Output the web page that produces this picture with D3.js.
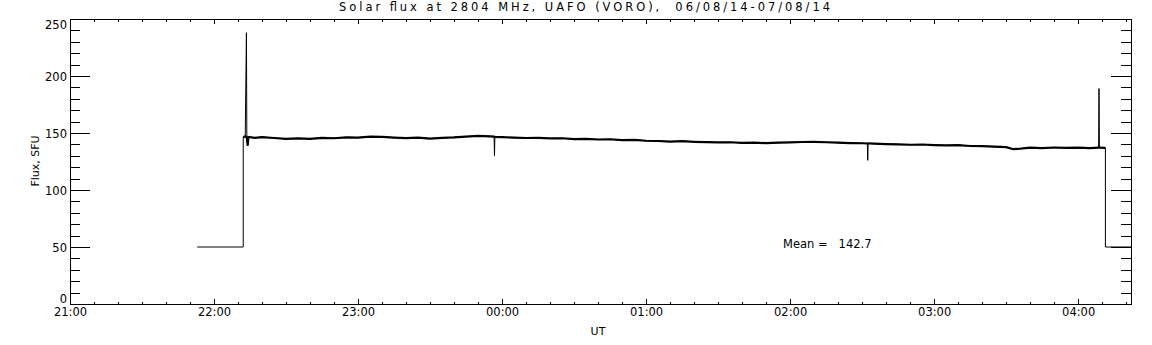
<!DOCTYPE html>
<html>
<head>
<meta charset="utf-8">
<script src="https://cdn.jsdelivr.net/npm/d3@7"></script>
<style>
  body { margin: 0; background: #fff; }
  svg { display: block; }
  text { font-family: "DejaVu Sans", sans-serif; font-size: 11px; fill: #000; }
</style>
</head>
<body>
<div id="hook"></div>
<script>
// Data (UT, day rolls over after midnight)
var fluxTimes = [
  "21:53:00","22:12:10","22:12:10","22:13:00","22:13:30","22:13:40","22:14:00","22:14:20",
  "22:17","22:20","22:25","22:30","22:35","22:40","22:45","22:50","22:55","23:00","23:05",
  "23:10","23:15","23:20","23:25","23:30","23:35","23:40","23:45","23:50","23:55",
  "23:56:40","23:56:50","23:57:00","00:00","00:05","00:10","00:15","00:20","00:25","00:30",
  "00:35","00:40","00:45","00:50","00:55","01:00","01:05","01:10","01:15","01:20","01:25",
  "01:30","01:35","01:40","01:45","01:50","01:55","02:00","02:05","02:10","02:15","02:20",
  "02:25","02:30","02:32:10","02:32:20","02:32:30","02:35","02:40","02:45","02:50","02:55",
  "03:00","03:05","03:10","03:15","03:20","03:25","03:30","03:33","03:36","03:40","03:45",
  "03:50","03:55","04:00","04:05","04:08:30","04:08:40","04:08:50","04:11:20","04:11:20","04:22"
];
var fluxValues = [
  50, 50, 146.5, 147, 238, 146, 139, 146.5,
  145.8, 146.4, 145.6, 144.8, 145.3, 144.9, 145.7, 145.4, 146.2, 146.0, 146.8,
  146.6, 146.0, 145.5, 145.9, 145.1, 145.8, 146.2, 146.9, 147.4, 147.0,
  146.8, 130, 146.6, 146.4, 145.9, 145.6, 145.8, 145.2, 145.4, 144.7,
  144.9, 144.3, 144.5, 143.7, 143.9, 143.2, 143.0, 142.5, 142.8, 142.3, 142.0,
  141.7, 141.9, 141.3, 141.6, 141.1, 141.5, 141.7, 142.1, 142.3, 141.9, 141.5,
  141.2, 141.0, 140.8, 126, 140.9, 140.6, 140.2, 140.0, 139.7, 139.9,
  139.4, 139.1, 139.3, 138.6, 138.4, 138.0, 137.6, 135.8, 136.3, 137.2, 136.8,
  137.3, 136.9, 137.1, 136.8, 137.2, 189, 137.2, 137.0, 50, 50
];
var yTicks = [0, 50, 100, 150, 200, 250];
var timeRange = ["21:00", "04:22"];
var meanValue = 142.7;
var titleText = "Solar flux at 2804 MHz, UAFO (VORO),  06/08/14-07/08/14";

function parseUT(s) {
  var p = s.split(":").map(Number);
  var day = p[0] < 12 ? 7 : 6;
  return new Date(Date.UTC(2014, 7, day, p[0], p[1], p[2] || 0));
}

var data = fluxTimes.map(function(t, i) { return { t: parseUT(t), v: fluxValues[i] }; });

var W = 1152, H = 345;
var m = { left: 70, right: 21, top: 19, bottom: 41 };

var svg = d3.select("#hook").append("svg")
    .attr("width", W)
    .attr("height", H);

var x = d3.scaleUtc()
    .domain(timeRange.map(parseUT))
    .range([m.left, W - m.right]);
var y = d3.scaleLinear()
    .domain([0, 250])
    .range([H - m.bottom, m.top]);

var fmt = d3.utcFormat("%H:%M");

// minor + major ticks, all pointing inside the frame
function xAxis(gen, ypos, size, labels) {
  var g = svg.append("g").attr("transform", "translate(0," + ypos + ")")
      .call(gen.tickSizeOuter(0).tickSize(size)
        .tickFormat(labels ? fmt : ""));
  g.select(".domain").remove();
  g.selectAll("line").attr("stroke", "#000").attr("shape-rendering", "crispEdges");
  return g;
}
xAxis(d3.axisBottom(x).ticks(d3.utcMinute.every(10)), H - m.bottom, -2.5, false);
var xb = xAxis(d3.axisBottom(x).ticks(d3.utcHour.every(1)), H - m.bottom, -5, true);
xb.selectAll("text").attr("y", 12).attr("dy", 0).style("font-size", "11.5px");
xAxis(d3.axisTop(x).ticks(d3.utcMinute.every(10)), m.top, -2.5, false);
xAxis(d3.axisTop(x).ticks(d3.utcHour.every(1)), m.top, -5, false);

function yAxis(gen, xpos, size, labels, vals) {
  var g = svg.append("g").attr("transform", "translate(" + xpos + ",0)")
      .call(gen.tickValues(vals).tickSizeOuter(0).tickSize(size)
        .tickFormat(labels ? d3.format("d") : ""));
  g.select(".domain").remove();
  g.selectAll("line").attr("stroke", "#000").attr("shape-rendering", "crispEdges");
  return g;
}
var minorY = d3.range(0, 251, 10);
yAxis(d3.axisLeft(y), m.left, -10, false, minorY);
var yl = yAxis(d3.axisLeft(y), m.left, -20, true, yTicks);
yl.selectAll("text").attr("x", -3).style("font-size", "11.5px")
  .attr("dy", function(d) { return d === 0 ? "-0.1em" : d === 250 ? "0.85em" : "0.35em"; });
yAxis(d3.axisRight(y), W - m.right, -10, false, minorY);
yAxis(d3.axisRight(y), W - m.right, -20, false, yTicks);

// frame
svg.append("rect")
    .attr("x", m.left + 0.5).attr("y", m.top + 0.5)
    .attr("width", W - m.left - m.right).attr("height", H - m.top - m.bottom)
    .attr("fill", "none").attr("stroke", "#000").attr("shape-rendering", "crispEdges");

// flux trace
var line = d3.line().x(function(d) { return x(d.t); }).y(function(d) { return y(d.v); });
svg.append("path")
    .datum(data)
    .attr("d", line)
    .attr("fill", "none").attr("stroke", "#000").attr("stroke-width", 1);
// noisy plateau drawn thicker (spikes and steps left out)
svg.append("path")
    .datum(data.filter(function(d) { return d.v > 133 && d.v < 150; }))
    .attr("d", line)
    .attr("fill", "none").attr("stroke", "#000").attr("stroke-width", 2.2);

// texts
svg.append("text")
    .attr("x", 339).attr("y", 11)
    .attr("textLength", 491).attr("lengthAdjust", "spacing")
    .style("white-space", "pre").style("font-size", "11.5px")
    .text(titleText);

svg.append("text")
    .attr("transform", "translate(39,161) rotate(-90)")
    .attr("text-anchor", "middle")
    .text("Flux, SFU");

svg.append("text")
    .attr("x", 598).attr("y", 335)
    .attr("text-anchor", "middle")
    .text("UT");

svg.append("text")
    .attr("x", 783).attr("y", 248)
    .style("white-space", "pre").style("font-size", "11.5px")
    .text("Mean =   " + meanValue.toFixed(1));
</script>
</body>
</html>
